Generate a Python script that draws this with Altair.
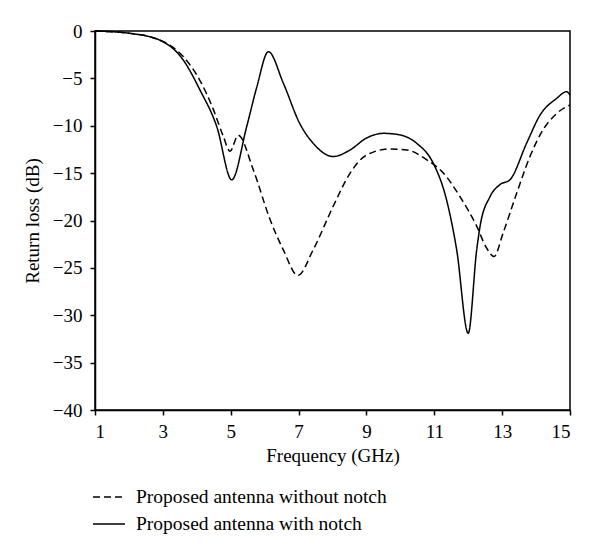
import altair as alt
import pandas as pd

# Proposed antenna with notch (solid)
freq_with = [1.0, 2.03, 2.9, 3.6, 4.09, 4.59, 5.03, 5.47, 5.77, 6.11, 6.55, 7.04, 7.43, 8.02, 8.52, 9.0,
             9.5, 9.99, 10.48, 10.97, 11.36, 11.66, 12.0, 12.25, 12.35, 12.64, 12.94, 13.23, 13.72,
             14.12, 14.61, 14.9, 15.0]
rl_with = [0.0, -0.25, -0.95, -3.06, -6.2, -10.1, -15.7, -10.1, -5.9, -2.18, -5.5, -9.8, -11.85, -13.25,
           -12.55, -11.3, -10.8, -10.97, -11.85, -13.96, -17.8, -23.1, -31.9, -23.1, -20.6, -17.5,
           -16.2, -15.7, -11.85, -8.86, -7.1, -6.4, -6.75]

# Proposed antenna without notch (dashed)
freq_without = [1.0, 2.03, 2.9, 3.11, 3.6, 4.09, 4.49, 4.78, 4.98, 5.22, 5.67, 6.16, 6.55, 6.98, 7.43,
                8.02, 8.52, 9.0, 9.69, 10.19, 10.78, 11.27, 11.76, 12.25, 12.54, 12.76, 13.03, 13.43,
                13.82, 14.21, 14.61, 15.0]
rl_without = [0.0, -0.25, -0.95, -1.3, -2.7, -5.2, -8.3, -11.1, -12.7, -11.0, -14.7, -19.9, -23.1,
              -25.8, -23.1, -18.5, -15.0, -13.1, -12.45, -12.55, -13.6, -15.0, -17.5, -20.6, -22.9,
              -23.8, -21.3, -17.1, -13.25, -10.4, -8.7, -7.8]

series_names = ["Proposed antenna without notch", "Proposed antenna with notch"]
x_ticks = [1, 3, 5, 7, 9, 11, 13, 15]
y_ticks = [0, -5, -10, -15, -20, -25, -30, -35, -40]

df = pd.concat([
    pd.DataFrame({"freq": freq_without, "rl": rl_without, "series": series_names[0], "order": range(len(freq_without))}),
    pd.DataFrame({"freq": freq_with, "rl": rl_with, "series": series_names[1], "order": range(len(freq_with))}),
])

FONT = "Liberation Serif"

chart = alt.Chart(df).mark_line(interpolate="monotone", strokeWidth=1.5, color="black").encode(
    x=alt.X("freq:Q", title="Frequency (GHz)",
            scale=alt.Scale(domain=[1, 15], nice=False, zero=False),
            axis=alt.Axis(values=x_ticks, format="d")),
    y=alt.Y("rl:Q", title="Return loss (dB)",
            scale=alt.Scale(domain=[-40, 0], nice=False),
            axis=alt.Axis(values=y_ticks, format="d")),
    order="order:Q",
    strokeDash=alt.StrokeDash(
        "series:N",
        scale=alt.Scale(domain=series_names, range=[[7, 4], [1, 0]]),
        legend=alt.Legend(title=None, orient="none", legendX=-3, legendY=449,
                          symbolType="stroke", symbolSize=1024, symbolStrokeColor="black",
                          symbolStrokeWidth=1.5, labelFont=FONT, labelFontSize=19.5,
                          labelColor="black", labelLimit=400, rowPadding=-8,
                          labelOffset=10),
    ),
).properties(
    width=475, height=379,
    autosize=alt.AutoSizeParams(type="none"),
    padding={"left": 87, "top": 23, "right": 20, "bottom": 130},
).configure_view(
    stroke="black", strokeWidth=1.5
).configure_axis(
    grid=False, domainColor="black", domainWidth=1.5, tickColor="black", tickWidth=1.5,
    tickSize=5, labelFont=FONT, labelFontSize=19, labelColor="black",
    titleFont=FONT, titleFontSize=19, titleFontWeight="normal", titleColor="black",
).configure_axisY(titlePadding=10, labelPadding=8).configure_axisX(titlePadding=5, labelPadding=7)

chart.save("out.html", embed_options={"renderer": "svg", "actions": False})
